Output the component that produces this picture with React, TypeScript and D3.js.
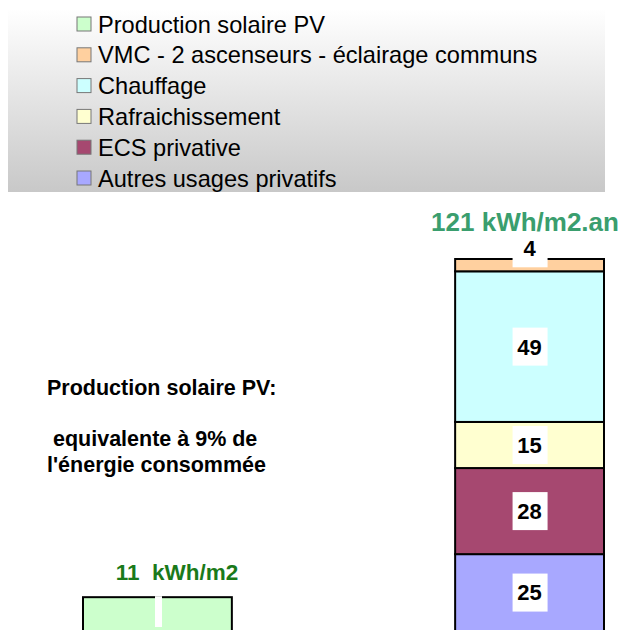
import { useMemo } from 'react'
import * as d3 from 'd3'

const FONT = '"Liberation Sans", Arial, sans-serif'

// legend entries (order as in the chart legend)
const legendLabels = [
  'Production solaire PV',
  'VMC - 2 ascenseurs - éclairage communs',
  'Chauffage',
  'Rafraichissement',
  'ECS privative',
  'Autres usages privatifs',
]
const legendColors = ['#ccffcc', '#ffd09f', '#ccffff', '#ffffd0', '#a64870', '#a8a8ff']

// bars
const categories = ['Production', 'Consommation']
const pvValue = 11
// consumption stack, bottom to top
const stackKeys = ['Autres usages privatifs', 'ECS privative', 'Rafraichissement', 'Chauffage', 'VMC - 2 ascenseurs - éclairage communs']
const stackValues = [25, 28, 15, 49, 4]
const stackColors = ['#a8a8ff', '#a64870', '#ffffd0', '#ccffff', '#ffd09f']

const totalLabel = '121 kWh/m2.an'
const pvLabel = '11  kWh/m2'
const noteLines = ['Production solaire PV:', '', ' equivalente à 9% de', "l'énergie consommée"]

export default function App() {
  const W = 621
  const H = 630
  const baseline = 631
  const total = d3.sum(stackValues)

  const x = d3.scaleBand().domain(categories).range([83, 604]).paddingInner(0.6)
  const y = d3.scaleLinear().domain([0, total]).range([baseline, 259])

  const stacked = useMemo(() => {
    const row: Record<string, number> = {}
    stackKeys.forEach((k, i) => (row[k] = stackValues[i]))
    return d3.stack<Record<string, number>>().keys(stackKeys)([row])
  }, [])

  const bw = x.bandwidth()
  const cx0 = x('Production')!
  const cx1 = x('Consommation')!

  return (
    <svg width={W} height={H} style={{ position: 'absolute', left: 0, top: 0 }} fontFamily={FONT}>
      <defs>
        <linearGradient id="lg" x1="0" y1="0" x2="0" y2="1">
          <stop offset="0" stopColor="#ffffff" />
          <stop offset="1" stopColor="#c8c8c8" />
        </linearGradient>
      </defs>
      <rect width={W} height={H} fill="#fff" />

      {/* legend */}
      <rect x={8} y={9} width={597} height={183} fill="url(#lg)" />
      {legendLabels.map((l, i) => (
        <g key={l} transform={`translate(77,${24 + i * 30.8})`}>
          <rect x={0} y={-7} width={14} height={14} fill={legendColors[i]} stroke="#777" strokeWidth={1} />
          <text x={21} y={0} dy="0.36em" fontSize={23.6} fill="#000">{l}</text>
        </g>
      ))}

      {/* PV bar */}
      <rect x={cx0} y={y(pvValue)} width={bw} height={baseline - y(pvValue)} fill={legendColors[0]} stroke="#000" strokeWidth={2} />
      <rect x={155} y={y(pvValue) - 1} width={7} height={627 - y(pvValue) + 1} fill="#fff" />
      <text x={177} y={572} dy="0.36em" textAnchor="middle" fontSize={22.5} fontWeight="bold" fill="#1a7a1a" style={{ whiteSpace: 'pre' }}>{pvLabel}</text>

      {/* consumption stack */}
      {stacked.map((s, i) => {
        const y0 = y(s[0][0])
        const y1 = y(s[0][1])
        return (
          <rect key={s.key} x={cx1} y={y1} width={bw} height={y0 - y1} fill={stackColors[i]} stroke="#000" strokeWidth={2} />
        )
      })}
      {stacked.map((s, i) => {
        const y0 = y(s[0][0])
        const y1 = y(s[0][1])
        const cy = y0 - y1 < 20 ? y0 - 3 - 20 : (y0 + y1) / 2
        const cxm = cx1 + bw / 2
        return (
          <g key={s.key + 'l'}>
            <rect x={cxm - 17} y={cy - 19} width={35} height={38} fill="#fff" />
            <text x={cxm} y={cy} dy="0.36em" textAnchor="middle" fontSize={22} fontWeight="bold" fill="#000">{stackValues[i]}</text>
          </g>
        )
      })}
      <text x={525} y={222} dy="0.36em" textAnchor="middle" fontSize={26} fontWeight="bold" fill="#3a9e6e">{totalLabel}</text>

      {/* note */}
      {noteLines.map((t, i) => (
        <text key={i} x={47} y={387 + i * 25.8} dy="0.36em" fontSize={21.5} fontWeight="bold" fill="#000" style={{ whiteSpace: 'pre' }}>{t}</text>
      ))}
    </svg>
  )
}
